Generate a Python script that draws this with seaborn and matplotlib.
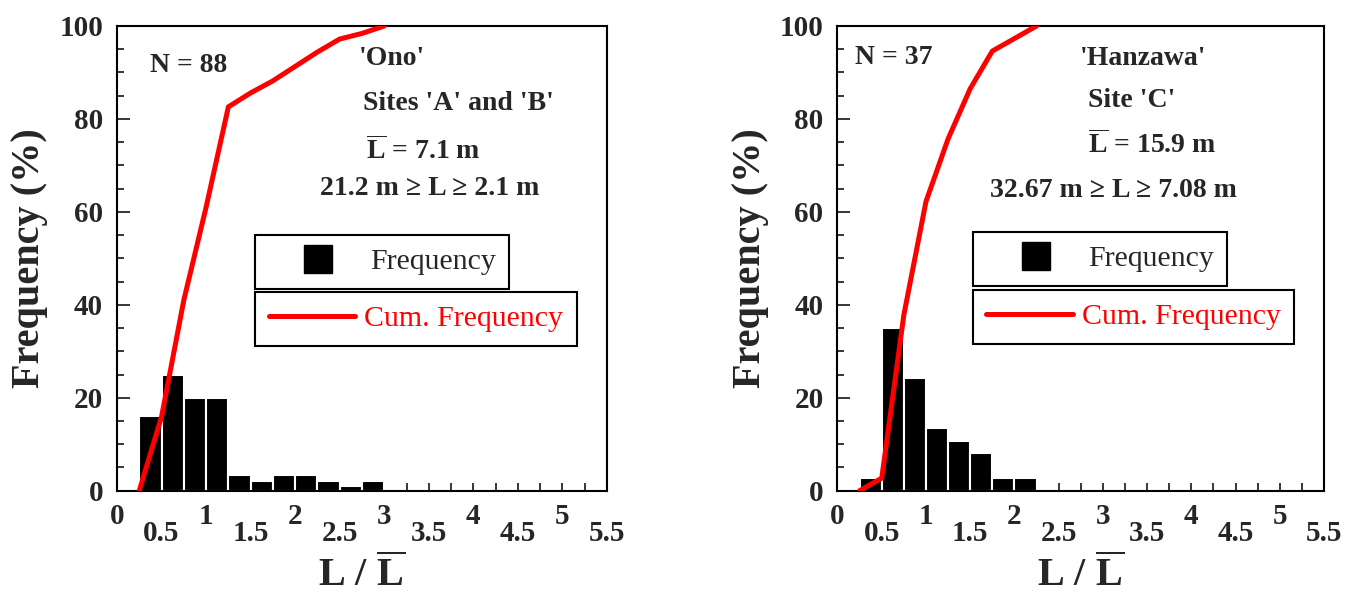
import numpy as np
import pandas as pd
import matplotlib
matplotlib.use("Agg")
import matplotlib.pyplot as plt
from matplotlib.lines import Line2D
from matplotlib.ticker import FixedLocator, FuncFormatter, MultipleLocator
import seaborn as sns

# ---------------- data ----------------
# left panel ('Ono', sites A and B)
ono_bin_centers = [0.375, 0.625, 0.875, 1.125, 1.375, 1.625, 1.875, 2.125, 2.375, 2.625, 2.875]
ono_freq = [16, 25, 20, 20, 3.4, 2.0, 3.4, 3.4, 2.0, 1.1, 2.0]
ono_cum_x = [0.25, 0.5, 0.75, 1.0, 1.25, 1.5, 1.75, 2.0, 2.25, 2.5, 2.75, 3.0]
ono_cum = [0, 15.9, 41, 61, 82.6, 85.6, 88.2, 91.3, 94.4, 97.2, 98.4, 100]

# right panel ('Hanzawa', site C)
han_bin_centers = [0.375, 0.625, 0.875, 1.125, 1.375, 1.625, 1.875, 2.125]
han_freq = [2.7, 35.1, 24.3, 13.5, 10.8, 8.1, 2.7, 2.7]
han_cum_x = [0.25, 0.5, 0.75, 1.0, 1.25, 1.5, 1.75, 2.0, 2.25]
han_cum = [0, 2.7, 37.8, 62.2, 75.7, 86.5, 94.6, 97.3, 100]

# ---------------- style ----------------
sns.set_style("white")
plt.rcParams['font.family'] = ['Liberation Serif', 'DejaVu Serif']
plt.rcParams['mathtext.fontset'] = 'custom'
plt.rcParams['mathtext.rm'] = 'Liberation Serif:bold'
plt.rcParams['mathtext.bf'] = 'Liberation Serif:bold'
plt.rcParams['mathtext.it'] = 'Liberation Serif:bold'
plt.rcParams['axes.edgecolor'] = 'black'
plt.rcParams['axes.linewidth'] = 1.5

W, H = 1362, 593
fig = plt.figure(figsize=(W / 100, H / 100), dpi=100)
ax1 = fig.add_axes([117 / W, (H - 490.7) / H, 490 / W, 464.7 / H])
ax2 = fig.add_axes([837.5 / W, (H - 490.7) / H, 486.5 / W, 464.7 / H])

LBAR = r"$\overline{\mathbf{L}}$"


def draw_panel(ax, centers, freq, cx, cy, texts, leg_top, leg_bot):
    df = pd.DataFrame({"x": centers, "f": freq})
    sns.barplot(data=df, x="x", y="f", native_scale=True, width=1.0,
                color="black", edgecolor="white", linewidth=1.5,
                saturation=1, ax=ax, zorder=2)
    ld = pd.DataFrame({"x": cx, "c": cy})
    sns.lineplot(data=ld, x="x", y="c", color="#ff0000", linewidth=3.6,
                 ax=ax, zorder=3, legend=False, sort=False)
    ax.set_xlim(0, 5.5)
    ax.set_ylim(0, 100)

    # y ticks
    ax.yaxis.set_major_locator(MultipleLocator(20))
    ax.yaxis.set_minor_locator(MultipleLocator(5))
    ax.tick_params(axis='y', which='major', direction='in', length=9, width=1.3,
                   labelsize=21, pad=10, left=True, right=False)
    ax.tick_params(axis='y', which='minor', direction='in', length=5, width=1.3,
                   left=True, right=False)
    # x ticks: integers high, halves low (staggered)
    ax.xaxis.set_major_locator(FixedLocator([0, 1, 2, 3, 4, 5]))
    minors = [q / 4 for q in range(1, 23) if q % 4 != 0]
    ax.xaxis.set_minor_locator(FixedLocator(minors))
    ax.xaxis.set_major_formatter(FuncFormatter(lambda v, p: f"{v:g}"))
    ax.xaxis.set_minor_formatter(FuncFormatter(
        lambda v, p: f"{v:g}" if abs(v * 2 - round(v * 2)) < 1e-6 else ""))
    ax.tick_params(axis='x', which='major', direction='in', length=6, width=1.3,
                   labelsize=21, pad=9, bottom=True, top=False)
    ax.tick_params(axis='x', which='minor', direction='in', length=6, width=1.3,
                   labelsize=21, pad=21, bottom=True, top=False)
    for lab in ax.get_xticklabels(which='both') + ax.get_yticklabels():
        lab.set_fontweight('bold')

    ax.set_ylabel("Frequency (%)", fontsize=29, fontweight='bold', labelpad=8)
    ax.set_xlabel("L / " + LBAR, fontsize=29, fontweight='bold', labelpad=6)

    for (tx, ty, s) in texts:
        ax.text(tx, ty, s, fontsize=20, fontweight='bold', ha='left', va='center',
                zorder=5)

    h1 = Line2D([], [], marker='s', linestyle='none', color='black', markersize=20)
    h2 = Line2D([], [], color='#ff0000', linewidth=3.6)
    legA = ax.legend([h1], ["Frequency"], loc='upper left', bbox_to_anchor=leg_top,
                     bbox_transform=ax.transAxes, borderaxespad=0, fontsize=21.5,
                     handlelength=3.3, handletextpad=0.1, borderpad=0.45,
                     fancybox=False, framealpha=1, edgecolor='black')
    legA.get_frame().set_linewidth(1.5)
    ax.add_artist(legA)
    legB = ax.legend([h2], ["Cum. Frequency"], loc='upper left', bbox_to_anchor=leg_bot,
                     bbox_transform=ax.transAxes, borderaxespad=0, fontsize=21.5,
                     handlelength=2.9, handletextpad=0.3, borderpad=0.45,
                     fancybox=False, framealpha=1, edgecolor='black',
                     labelcolor='#ff0000')
    legB.get_frame().set_linewidth(1.5)


ono_texts = [
    (0.37, 91.5, "N = 88"),
    (2.72, 93.0, "'Ono'"),
    (2.76, 83.4, "Sites 'A' and 'B'"),
    (2.80, 73.3, LBAR + " = 7.1 m"),
    (2.28, 65.1, "21.2 m \u2265 L \u2265 2.1 m"),
]
han_texts = [
    (0.20, 93.3, "N = 37"),
    (2.74, 93.1, "'Hanzawa'"),
    (2.83, 84.0, "Site 'C'"),
    (2.83, 74.4, LBAR + " = 15.9 m"),
    (1.72, 64.7, "32.67 m \u2265 L \u2265 7.08 m"),
]

draw_panel(ax1, ono_bin_centers, ono_freq, ono_cum_x, ono_cum, ono_texts,
           (0.282, 0.550), (0.282, 0.4276))
draw_panel(ax2, han_bin_centers, han_freq, han_cum_x, han_cum, han_texts,
           (0.2785, 0.557), (0.2785, 0.432))

fig.savefig("out.png", dpi=100)
